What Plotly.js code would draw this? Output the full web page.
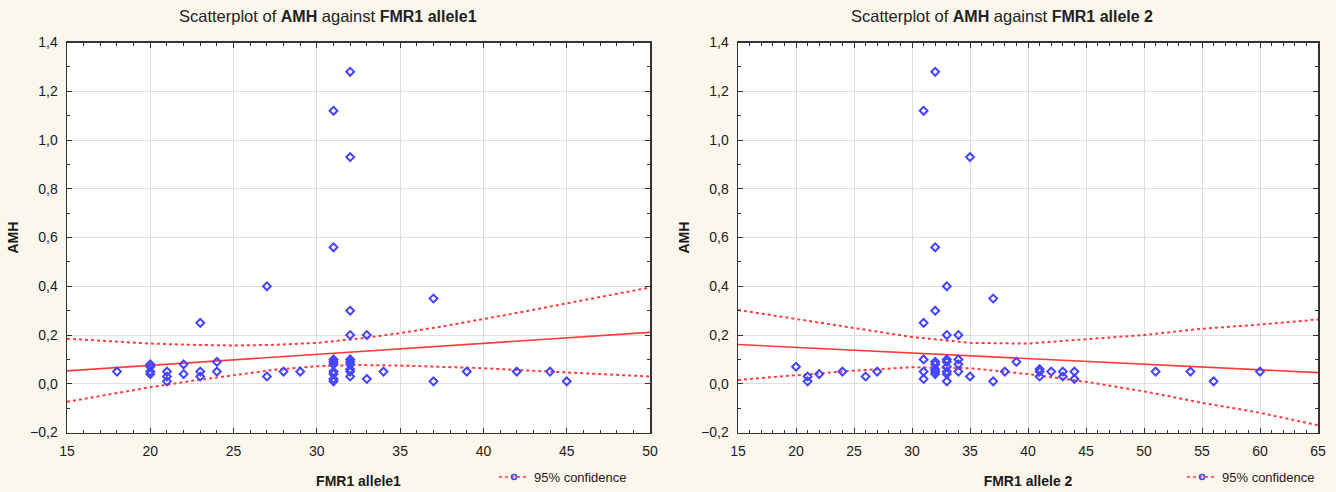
<!DOCTYPE html>
<html>
<head>
<meta charset="utf-8">
<script src="https://cdn.plot.ly/plotly-3.0.1.min.js"></script>
<style>html,body{margin:0;padding:0;background:#fcf7ec;}</style>
</head>
<body>
<div id="chart" style="width:1336px;height:492px;"></div>
<script>
// ---- Left panel: AMH vs FMR1 allele1 ----
const allele1X = [18, 20,20,20,20, 21,21,21, 22,22, 23,23,23, 24,24, 27,27, 28, 29,
  31,31,31,31,31,31,31,31,31, 32,32,32,32,32,32,32,32,32,32, 33,33, 34, 37,37, 39, 42, 44, 45];
const allele1AMH = [0.05, 0.08,0.07,0.05,0.04, 0.05,0.03,0.01, 0.08,0.04, 0.25,0.05,0.03, 0.09,0.05, 0.40,0.03, 0.05, 0.05,
  1.12,0.56,0.10,0.09,0.08,0.05,0.04,0.02,0.01, 1.28,0.93,0.30,0.20,0.10,0.09,0.08,0.06,0.05,0.03, 0.20,0.02, 0.05, 0.35,0.01, 0.05, 0.05, 0.05, 0.01];
const fit1X = [15, 50];
const fit1Y = [0.053, 0.211];
const band1X = [15, 17.5, 20, 22.5, 25, 27.5, 30, 32.5, 35, 37.5, 40, 42.5, 45, 47.5, 50];
const band1Upper = [0.185, 0.175, 0.165, 0.160, 0.157, 0.160, 0.168, 0.185, 0.208, 0.235, 0.265, 0.297, 0.330, 0.362, 0.395];
const band1Lower = [-0.074, -0.044, -0.014, 0.012, 0.036, 0.058, 0.072, 0.077, 0.075, 0.070, 0.064, 0.055, 0.046, 0.038, 0.030];

// ---- Right panel: AMH vs FMR1 allele 2 ----
const allele2X = [20, 21,21, 22, 24, 26, 27,
  31,31,31,31,31, 32,32,32,32,32,32,32,32, 33,33,33,33,33,33,33,33, 34,34,34,34, 35,35, 37,37, 38, 39,
  41,41,41, 42, 43,43, 44,44, 51, 54, 56, 60];
const allele2AMH = [0.07, 0.03,0.01, 0.04, 0.05, 0.03, 0.05,
  1.12,0.25,0.10,0.05,0.02, 1.28,0.56,0.30,0.09,0.08,0.06,0.05,0.04, 0.40,0.20,0.10,0.09,0.07,0.05,0.04,0.01, 0.20,0.10,0.08,0.05, 0.93,0.03, 0.35,0.01, 0.05, 0.09,
  0.06,0.05,0.03, 0.05, 0.05,0.03, 0.05,0.02, 0.05, 0.05, 0.01, 0.05];
const fit2X = [15, 65];
const fit2Y = [0.161, 0.046];
const band2X = [15, 20, 25, 30, 35, 40, 45, 50, 55, 60, 65];
const band2Upper = [0.303, 0.266, 0.226, 0.192, 0.168, 0.165, 0.183, 0.200, 0.226, 0.243, 0.264];
const band2Lower = [0.016, 0.036, 0.054, 0.068, 0.064, 0.040, 0.008, -0.031, -0.078, -0.119, -0.170];

const titles = [
  'Scatterplot of <b><span style="font-size:16px">AMH</span></b> against <b><span style="font-size:16px">FMR1 allele1</span></b>',
  'Scatterplot of <b><span style="font-size:16px">AMH</span></b> against <b><span style="font-size:16px">FMR1 allele 2</span></b>'
];
const xTitles = ['FMR1 allele1', 'FMR1 allele 2'];
const yTitle = 'AMH';
const legendLabel = '95% confidence';

const BLUE = '#4545ff';
const RED = '#ff3b3b';
const FONT = 'Liberation Sans, Arial, sans-serif';

function panelTraces(xa, ya, px, py, fx, fy, bx, bu, bl, legendId) {
  return [
    {x: bx, y: bu, xaxis: xa, yaxis: ya, mode: 'lines', type: 'scatter',
     line: {color: RED, width: 2, dash: 'dot'}, showlegend: false, hoverinfo: 'skip'},
    {x: bx, y: bl, xaxis: xa, yaxis: ya, mode: 'lines', type: 'scatter',
     line: {color: RED, width: 2, dash: 'dot'}, showlegend: false, hoverinfo: 'skip'},
    {x: fx, y: fy, xaxis: xa, yaxis: ya, mode: 'lines', type: 'scatter',
     line: {color: RED, width: 1.6}, showlegend: false},
    {x: px, y: py, xaxis: xa, yaxis: ya, mode: 'markers', type: 'scatter',
     marker: {symbol: 'diamond-open', size: 6, color: BLUE, line: {width: 2, color: BLUE}},
     showlegend: false},
    {x: [null], y: [null], xaxis: xa, yaxis: ya, mode: 'lines+markers', type: 'scatter',
     name: legendLabel, legend: legendId,
     line: {color: RED, width: 1.6, dash: 'dot'},
     marker: {symbol: 'circle-open', size: 5, color: BLUE, line: {width: 1.6, color: BLUE}}}
  ];
}

const data = [
  ...panelTraces('x', 'y', allele1X, allele1AMH, fit1X, fit1Y, band1X, band1Upper, band1Lower, 'legend'),
  ...panelTraces('x2', 'y2', allele2X, allele2AMH, fit2X, fit2Y, band2X, band2Upper, band2Lower, 'legend2')
];

function xAxis(domain, range, title, anchor) {
  return {
    domain: domain, range: range, anchor: anchor, dtick: 5, tick0: 15,
    showline: true, linecolor: '#333', linewidth: 1.5, mirror: 'ticks',
    ticks: 'inside', ticklen: 5, tickcolor: '#333',
    minor: {dtick: 1, ticks: 'inside', ticklen: 3, tickcolor: '#333', showgrid: false},
    showgrid: true, gridcolor: '#dedede', gridwidth: 1, zeroline: false,
    tickfont: {family: FONT, size: 14, color: '#1a1a1a'}, ticklabelstandoff: 5,
    title: {text: '<b>' + title + '</b>', font: {family: FONT, size: 14, color: '#1a1a1a'}, standoff: 18},
    automargin: false, fixedrange: true
  };
}
function yAxis(domain, anchor) {
  return {
    domain: domain, range: [-0.2, 1.4], anchor: anchor, dtick: 0.2, tick0: 0,
    tickformat: '.1f',
    showline: true, linecolor: '#333', linewidth: 1.5, mirror: 'ticks',
    ticks: 'inside', ticklen: 5, tickcolor: '#333',
    minor: {dtick: 0.1, ticks: 'inside', ticklen: 3, tickcolor: '#333', showgrid: false},
    showgrid: true, gridcolor: '#dedede', gridwidth: 1, zeroline: false,
    tickfont: {family: FONT, size: 14, color: '#1a1a1a'}, ticklabelstandoff: 5,
    title: {text: '<b>' + yTitle + '</b>', font: {family: FONT, size: 14, color: '#1a1a1a'}, standoff: 8},
    automargin: false, fixedrange: true
  };
}

const yDom = [1 - 437 / 492, 1 - 43 / 492];
const layout = {
  width: 1336, height: 492,
  margin: {l: 0, r: 0, t: 0, b: 0},
  paper_bgcolor: '#fcf7ec', plot_bgcolor: '#ffffff',
  separators: ', ',
  font: {family: FONT, color: '#222'},
  xaxis: xAxis([67 / 1336, 650 / 1336], [15, 50], xTitles[0], 'y'),
  yaxis: yAxis(yDom, 'x'),
  xaxis2: xAxis([738 / 1336, 1318 / 1336], [15, 65], xTitles[1], 'y2'),
  yaxis2: yAxis(yDom, 'x2'),
  legend: {x: 632 / 1336, xanchor: 'right', y: 1 - 482 / 492, yanchor: 'middle',
           bgcolor: 'rgba(0,0,0,0)', font: {family: FONT, size: 13, color: '#222'}, itemwidth: 30},
  legend2: {x: 1320 / 1336, xanchor: 'right', y: 1 - 482 / 492, yanchor: 'middle',
           bgcolor: 'rgba(0,0,0,0)', font: {family: FONT, size: 13, color: '#222'}, itemwidth: 30},
  annotations: [
    {text: titles[0], xref: 'paper', yref: 'paper', x: 328 / 1336, y: 1 - 16 / 492,
     showarrow: false, xanchor: 'center', yanchor: 'middle',
     font: {family: 'Liberation Sans Narrow, Liberation Sans, Arial, sans-serif', size: 16.5, color: '#222'}},
    {text: titles[1], xref: 'paper', yref: 'paper', x: 1002 / 1336, y: 1 - 16 / 492,
     showarrow: false, xanchor: 'center', yanchor: 'middle',
     font: {family: 'Liberation Sans Narrow, Liberation Sans, Arial, sans-serif', size: 16.5, color: '#222'}}
  ],
  showlegend: true
};

Plotly.newPlot('chart', data, layout, {staticPlot: true, displayModeBar: false});
</script>
</body>
</html>
